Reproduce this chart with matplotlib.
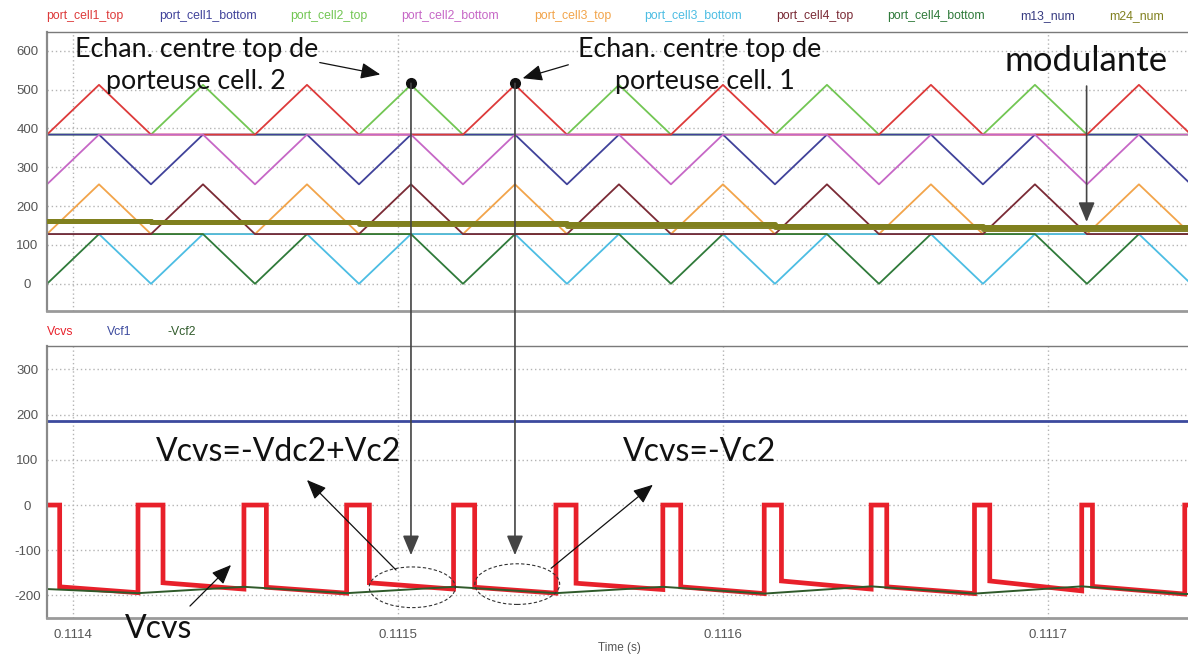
import matplotlib
matplotlib.use("Agg")
import matplotlib.pyplot as plt
from matplotlib.patches import ConnectionPatch, Ellipse, FancyArrowPatch

# ---------------- data ----------------
# top panel : carriers (times of the triangle tips, in s) and bands
half_width = 1.6e-5
cell1_top_peaks = [0.111408, 0.111472, 0.111536, 0.111600, 0.111664, 0.111728]
cell2_top_peaks = [0.111440, 0.111504, 0.111568, 0.111632, 0.111696, 0.111760]
cell1_bottom_valleys = [0.111424, 0.111488, 0.111552, 0.111616, 0.111680, 0.111744]
cell2_bottom_valleys = [0.111392, 0.111456, 0.111520, 0.111584, 0.111648, 0.111712]
band_top = (384, 512)
band_upper_mid = (384, 256)
band_lower_mid = (128, 256)
band_low = (128, 0)

# modulante (sampled, held)
mod_t = [0.111360, 0.111424, 0.111488, 0.111552, 0.111616, 0.111680, 0.111780]
m13_num = [162, 159, 156, 153, 150, 147, 147]
m24_num = [162, 158, 154, 150, 145, 141, 141]

# bottom panel
vcf1_t = [0.111360, 0.111780]
vcf1_v = [186, 186]

vcf2_t = [0.111380, 0.111420, 0.1114526, 0.1114842, 0.1115171, 0.1115486, 0.1115815,
          0.1116127, 0.1116456, 0.1116774, 0.1117104, 0.1117421, 0.111760]
vcf2_v = [-182, -195, -181, -195, -181, -195, -181, -196, -180, -196, -180, -197, -193]

pulse_fall = [0.1113959, 0.1114277, 0.1114595, 0.1114912, 0.1115236, 0.1115548,
              0.1115870, 0.1116180, 0.1116504, 0.1116821, 0.1117137]
pulse_rise = [0.1114200, 0.1114526, 0.1114842, 0.1115171, 0.1115486, 0.1115815,
              0.1116127, 0.1116456, 0.1116774, 0.1117104, 0.1117421]
seg_start = [-181, -172, -182, -172, -182, -173, -181, -168, -181, -168, -180]
seg_end = [-194, -186, -195, -186, -195, -187, -196, -186, -196, -190, -197]

# sampling instants marked on the chart (cell 2 tip, cell 1 tip)
sample_t = [0.111504, 0.111536]

x_ticks = [0.1114, 0.1115, 0.1116, 0.1117]
top_yticks = [0, 100, 200, 300, 400, 500, 600]
bot_yticks = [-200, -100, 0, 100, 200, 300]

top_names = ["port_cell1_top", "port_cell1_bottom", "port_cell2_top", "port_cell2_bottom",
             "port_cell3_top", "port_cell3_bottom", "port_cell4_top", "port_cell4_bottom",
             "m13_num", "m24_num"]
bot_names = ["Vcvs", "Vcf1", "-Vcf2"]

# ---------------- styling ----------------
c = {
    "port_cell1_top": "#dd3a3a", "port_cell1_bottom": "#40429a",
    "port_cell2_top": "#72c653", "port_cell2_bottom": "#c667c6",
    "port_cell3_top": "#f2a44a", "port_cell3_bottom": "#4cbde3",
    "port_cell4_top": "#7a2a35", "port_cell4_bottom": "#2f7a3a",
    "m13_num": "#363a80", "m24_num": "#80801e",
    "Vcvs": "#e8202a", "Vcf1": "#3c4a9e", "-Vcf2": "#2f5a2a",
}
W, H = 1188, 655
T0, T1 = 0.111360, 0.111780


def fpos(x, y):
    # picture pixels (top-left origin) to figure fraction
    return x / W, 1 - y / H


def carrier(tips, base, tip):
    xs, ys = [T0], [base]
    for p in tips:
        xs += [p - half_width, p, p + half_width]
        ys += [base, tip, base]
    xs.append(T1)
    ys.append(base)
    return xs, ys


plt.rcParams["font.family"] = ["Liberation Sans", "DejaVu Sans"]
plt.rcParams["axes.unicode_minus"] = False
fig = plt.figure(figsize=(W / 100, H / 100), dpi=100)
ax_top = fig.add_axes([47 / W, 1 - 311 / H, 1 - 47 / W, (311 - 32) / H])
ax_bot = fig.add_axes([47 / W, 1 - 618 / H, 1 - 47 / W, (618 - 346) / H])

# carriers (drawing order decides which colour shows on the shared flats)
series = [
    ("port_cell2_top", cell2_top_peaks, band_top),
    ("port_cell1_bottom", cell1_bottom_valleys, band_upper_mid),
    ("port_cell1_top", cell1_top_peaks, band_top),
    ("port_cell2_bottom", cell2_bottom_valleys, band_upper_mid),
    ("port_cell3_top", cell1_top_peaks, band_lower_mid),
    ("port_cell3_bottom", cell1_bottom_valleys, band_low),
    ("port_cell4_bottom", cell2_bottom_valleys, band_low),
    ("port_cell4_top", cell2_top_peaks, band_lower_mid),
]
for name, tips, (base, tip) in series:
    xs, ys = carrier(tips, base, tip)
    ax_top.plot(xs, ys, color=c[name], lw=1.3)

ax_top.step(mod_t, m24_num, where="post", color="#86842a", lw=3.6, zorder=4)
ax_top.step(mod_t, m13_num, where="post", color=c["m24_num"], lw=3.6, zorder=5)

# Vcvs polyline from pulse edges
vx, vy = [T0], [0]
for f, s, e, r in zip(pulse_fall, seg_start, seg_end, pulse_rise):
    vx += [f, f, r, r]
    vy += [0, s, e, 0]
vx.append(T1)
vy.append(0)
ax_bot.plot(vcf1_t, vcf1_v, color=c["Vcf1"], lw=2.0)
ax_bot.plot(vx, vy, color=c["Vcvs"], lw=3.4, solid_joinstyle="miter")
ax_bot.plot(vcf2_t, vcf2_v, color=c["-Vcf2"], lw=1.4)

for ax, yl, yt in [(ax_top, (-70, 648), top_yticks), (ax_bot, (-250, 352), bot_yticks)]:
    ax.set_xlim(0.111392, 0.1117431)
    ax.set_ylim(*yl)
    ax.set_xticks(x_ticks)
    ax.set_yticks(yt)
    ax.grid(True, ls=(0, (1, 2)), color="#b4b4b4", lw=1.0)
    ax.set_axisbelow(True)
    ax.tick_params(length=0, labelsize=9.5, labelcolor="#555555", pad=14)
    for lab in ax.get_yticklabels():
        lab.set_ha("center")
    ax.spines["right"].set_visible(False)
    ax.spines["top"].set_color("#7a7a7a")
    ax.spines["top"].set_linewidth(1.0)
    ax.spines["left"].set_color("#8a8a8a")
    ax.spines["left"].set_linewidth(1.6)
    ax.spines["bottom"].set_color("#9a9a9a")
    ax.spines["bottom"].set_linewidth(2.0)

ax_top.set_xticklabels([])
ax_bot.set_xticklabels([str(t) for t in x_ticks])
ax_bot.tick_params(axis="x", pad=8)
fig.text(*fpos(619, 648), "Time (s)", fontsize=8.5, color="#555555", ha="center", va="center")

# legend texts
top_x = [46, 159, 290, 401, 534, 644, 776, 887, 1020, 1109]
for name, x in zip(top_names, top_x):
    fig.text(*fpos(x, 16), name, fontsize=8.8, color=c[name], ha="left", va="center")
for name, x in zip(bot_names, [47, 107, 167]):
    fig.text(*fpos(x, 332), name, fontsize=8.8, color=c[name], ha="left", va="center")

# ---------------- annotations ----------------
ann = dict(family=["Lato", "DejaVu Sans"], color="#111111", ha="center", va="center")
fig.text(*fpos(197, 49), "Echan. centre top de", fontsize=19.3, **ann)
fig.text(*fpos(196, 81), "porteuse cell. 2", fontsize=19.3, **ann)
fig.text(*fpos(700, 49), "Echan. centre top de", fontsize=19.3, **ann)
fig.text(*fpos(705, 81), "porteuse cell. 1", fontsize=19.3, **ann)
fig.text(*fpos(1086, 61), "modulante", fontsize=25, **ann)
fig.text(*fpos(279, 452), "Vcvs=-Vdc2+Vc2", fontsize=23, **ann)
fig.text(*fpos(700, 452), "Vcvs=-Vc2", fontsize=23, **ann)
fig.text(*fpos(159, 629), "Vcvs", fontsize=23, **ann)

astyle = "-|>,head_length=0.6,head_width=0.25"
for t_dot in sample_t:
    ax_top.plot([t_dot], [516], "o", color="#111111", ms=7, zorder=10)
    con = ConnectionPatch(xyA=(t_dot, 516), coordsA=ax_top.transData,
                          xyB=(t_dot, -111), coordsB=ax_bot.transData,
                          arrowstyle=astyle, mutation_scale=20, color="#444444", lw=1.2, zorder=9)
    fig.add_artist(con)

ax_top.annotate("", xy=(0.1117119, 152), xytext=(0.1117119, 516),
                arrowprops=dict(arrowstyle=astyle, mutation_scale=20, color="#444444", lw=1.2))

for (x0, y0), (x1, y1) in [((317, 62), (383, 75)), ((571, 64), (520, 79)),
                           ((398, 572), (305, 478)), ((549, 570), (655, 483)),
                           ((188, 608), (233, 563))]:
    fig.add_artist(FancyArrowPatch(fpos(x0, y0), fpos(x1, y1), transform=fig.transFigure,
                                   arrowstyle=astyle, mutation_scale=20, color="#111111", lw=0.9))

for tc, vc, w in [(0.1115044, -182, 2.65e-5), (0.1115367, -175, 2.61e-5)]:
    ax_bot.add_patch(Ellipse((tc, vc), width=w, height=90, fill=False, ls=(0, (3, 2)),
                             lw=0.8, color="#333333", zorder=8))

fig.savefig("out.png", dpi=100)
